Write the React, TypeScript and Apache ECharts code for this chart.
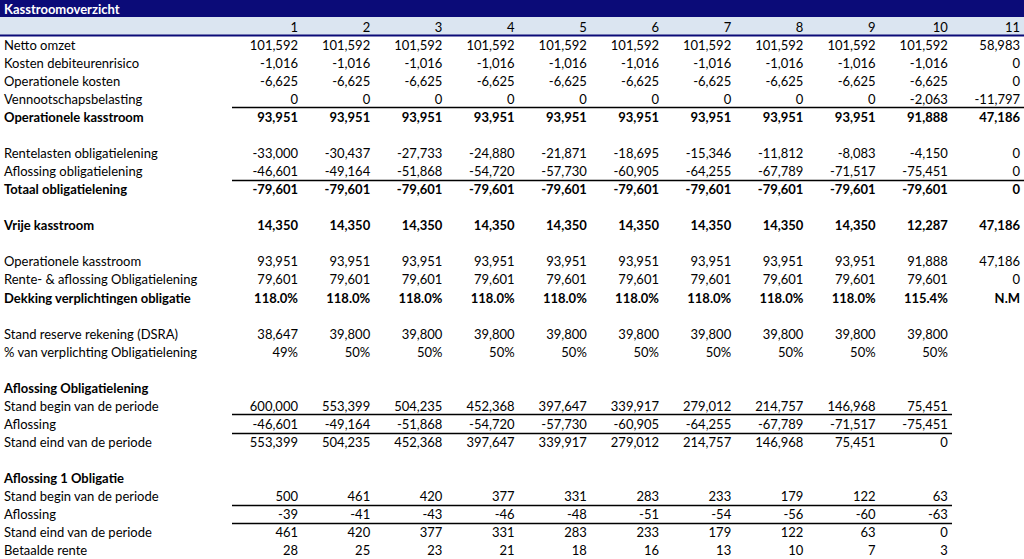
import React, { useEffect, useRef } from "react";
import * as echarts from "echarts";

const TITLE = "Kasstroomoverzicht";
const periods = ["1", "2", "3", "4", "5", "6", "7", "8", "9", "10", "11"];

const nettoOmzet = [101592, 101592, 101592, 101592, 101592, 101592, 101592, 101592, 101592, 101592, 58983];
const kostenDebiteurenrisico = [-1016, -1016, -1016, -1016, -1016, -1016, -1016, -1016, -1016, -1016, 0];
const operationeleKosten = [-6625, -6625, -6625, -6625, -6625, -6625, -6625, -6625, -6625, -6625, 0];
const vennootschapsbelasting = [0, 0, 0, 0, 0, 0, 0, 0, 0, -2063, -11797];
const operationeleKasstroom = [93951, 93951, 93951, 93951, 93951, 93951, 93951, 93951, 93951, 91888, 47186];
const rentelasten = [-33000, -30437, -27733, -24880, -21871, -18695, -15346, -11812, -8083, -4150, 0];
const aflossingObligatielening = [-46601, -49164, -51868, -54720, -57730, -60905, -64255, -67789, -71517, -75451, 0];
const totaalObligatielening = [-79601, -79601, -79601, -79601, -79601, -79601, -79601, -79601, -79601, -79601, 0];
const vrijeKasstroom = [14350, 14350, 14350, 14350, 14350, 14350, 14350, 14350, 14350, 12287, 47186];
const renteAflossing = [79601, 79601, 79601, 79601, 79601, 79601, 79601, 79601, 79601, 79601, 0];
const dekking = [118.0, 118.0, 118.0, 118.0, 118.0, 118.0, 118.0, 118.0, 118.0, 115.4, null];
const standReserve = [38647, 39800, 39800, 39800, 39800, 39800, 39800, 39800, 39800, 39800];
const pctVerplichting = [49, 50, 50, 50, 50, 50, 50, 50, 50, 50];
const standBegin = [600000, 553399, 504235, 452368, 397647, 339917, 279012, 214757, 146968, 75451];
const aflossing = [-46601, -49164, -51868, -54720, -57730, -60905, -64255, -67789, -71517, -75451];
const standEind = [553399, 504235, 452368, 397647, 339917, 279012, 214757, 146968, 75451, 0];
const standBegin1 = [500, 461, 420, 377, 331, 283, 233, 179, 122, 63];
const aflossing1 = [-39, -41, -43, -46, -48, -51, -54, -56, -60, -63];
const standEind1 = [461, 420, 377, 331, 283, 233, 179, 122, 63, 0];
const betaaldeRente1 = [28, 25, 23, 21, 18, 16, 13, 10, 7, 3];

type Fmt = "num" | "pct1" | "pct0";
type Row = { label: string; values?: (number | null)[]; bold?: boolean; fmt?: Fmt; underline?: "full" | "part" };

const rows: Row[] = [
  { label: "Netto omzet", values: nettoOmzet },
  { label: "Kosten debiteurenrisico", values: kostenDebiteurenrisico },
  { label: "Operationele kosten", values: operationeleKosten },
  { label: "Vennootschapsbelasting", values: vennootschapsbelasting, underline: "full" },
  { label: "Operationele kasstroom", values: operationeleKasstroom, bold: true },
  { label: "" },
  { label: "Rentelasten obligatielening", values: rentelasten },
  { label: "Aflossing obligatielening", values: aflossingObligatielening, underline: "full" },
  { label: "Totaal obligatielening", values: totaalObligatielening, bold: true },
  { label: "" },
  { label: "Vrije kasstroom", values: vrijeKasstroom, bold: true },
  { label: "" },
  { label: "Operationele kasstroom", values: operationeleKasstroom },
  { label: "Rente- & aflossing Obligatielening", values: renteAflossing },
  { label: "Dekking verplichtingen obligatie", values: dekking, bold: true, fmt: "pct1" },
  { label: "" },
  { label: "Stand reserve rekening (DSRA)", values: standReserve },
  { label: "% van verplichting Obligatielening", values: pctVerplichting, fmt: "pct0" },
  { label: "" },
  { label: "Aflossing Obligatielening", bold: true },
  { label: "Stand begin van de periode", values: standBegin, underline: "part" },
  { label: "Aflossing", values: aflossing, underline: "part" },
  { label: "Stand eind van de periode", values: standEind },
  { label: "" },
  { label: "Aflossing 1 Obligatie", bold: true },
  { label: "Stand begin van de periode", values: standBegin1, underline: "part" },
  { label: "Aflossing", values: aflossing1, underline: "part" },
  { label: "Stand eind van de periode", values: standEind1 },
  { label: "Betaalde rente", values: betaaldeRente1 },
];

// layout constants
const W = 1024;
const H = 559;
const GRID_TOP = 17;
const COL1_RIGHT = 298;
const COL_STEP = 72.2;
const X_MIN = -(COL1_RIGHT - COL_STEP) / COL_STEP;
const X_MAX = X_MIN + W / COL_STEP;
const LINE_START = X_MIN + 232 / COL_STEP;
const LINE_PART_END = X_MIN + 952 / COL_STEP;
const NAVY = "#0b0b78";
const LIGHT = "#dbe5f1";
const FONT = "Lato";
const FS = 13;

function fmtVal(v: number | null, f: Fmt = "num"): string {
  if (v === null) return "N.M";
  if (f === "pct1") return v.toFixed(1) + "%";
  if (f === "pct0") return v.toFixed(0) + "%";
  return v.toLocaleString("en-US");
}

type Cell = { col: number; row: number; text: string; bold: boolean; isLabel: boolean };

export default function App() {
  const ref = useRef<HTMLDivElement>(null);
  useEffect(() => {
    if (!ref.current) return;
    const chart = echarts.init(ref.current, undefined, { renderer: "svg" });
    const cells: Cell[] = [];
    periods.forEach((p, i) => cells.push({ col: i + 1, row: 0, text: p, bold: false, isLabel: false }));
    rows.forEach((r, ri) => {
      const row = ri + 1;
      if (r.label) cells.push({ col: X_MIN, row, text: r.label, bold: !!r.bold, isLabel: true });
      (r.values || []).forEach((v, ci) =>
        cells.push({ col: ci + 1, row, text: fmtVal(v, r.fmt), bold: !!r.bold, isLabel: false })
      );
    });
    const lines: number[][] = [];
    rows.forEach((r, ri) => {
      if (r.underline) lines.push([LINE_START, ri + 1, r.underline === "full" ? X_MAX : LINE_PART_END]);
    });
    const rowKeys = ["h", ...rows.map((_, i) => String(i + 1))];

    chart.setOption({
      animation: false,
      grid: { left: 0, right: 0, top: GRID_TOP, bottom: 0 },
      xAxis: { type: "value", min: X_MIN, max: X_MAX, show: false },
      yAxis: { type: "category", data: rowKeys, inverse: true, show: false },
      graphic: [
        { type: "rect", z: 0, shape: { x: 0, y: 0, width: W, height: GRID_TOP }, style: { fill: NAVY } },
        { type: "rect", z: 0, shape: { x: 0, y: GRID_TOP, width: W, height: 18 }, style: { fill: LIGHT } },
        { type: "rect", z: 0, shape: { x: 0, y: GRID_TOP + 17.5, width: W, height: 2 }, style: { fill: NAVY } },
        {
          type: "text",
          z: 5,
          x: 4,
          y: GRID_TOP / 2 + 0.5,
          style: {
            text: TITLE,
            fill: "#ffffff",
            fontFamily: FONT,
            fontSize: FS,
            fontWeight: "bold",
            verticalAlign: "middle",
            align: "left",
          },
        },
      ],
      series: [
        {
          type: "custom",
          clip: false,
          z: 3,
          data: cells.map((c) => [c.col, c.row]),
          encode: { x: 0, y: 1 },
          renderItem: (params: any, api: any) => {
            const c = cells[params.dataIndex];
            const p = api.coord([api.value(0), api.value(1)]);
            const x = c.isLabel ? params.coordSys.x + 4 : p[0];
            return {
              type: "text",
              x,
              y: p[1] + 0.5,
              style: {
                text: c.text,
                fill: "#000000",
                fontFamily: FONT,
                fontSize: FS,
                fontWeight: c.bold ? "bold" : "normal",
                align: c.isLabel ? "left" : "right",
                verticalAlign: "middle",
              },
            };
          },
        },
        {
          type: "custom",
          clip: false,
          z: 3,
          data: lines,
          encode: { x: [0, 2], y: 1 },
          renderItem: (params: any, api: any) => {
            const a = api.coord([api.value(0), api.value(1)]);
            const b = api.coord([api.value(2), api.value(1)]);
            const half = api.size([0, 1])[1] / 2;
            const y = Math.round(a[1] + half) + 0.5;
            return {
              type: "line",
              shape: { x1: a[0], y1: y, x2: b[0], y2: y },
              style: { stroke: "#000000", lineWidth: 1.5 },
            };
          },
        },
      ],
    });
    return () => chart.dispose();
  }, []);
  return <div ref={ref} style={{ position: "fixed", left: 0, top: 0, width: W, height: H, background: "#fff" }} />;
}
